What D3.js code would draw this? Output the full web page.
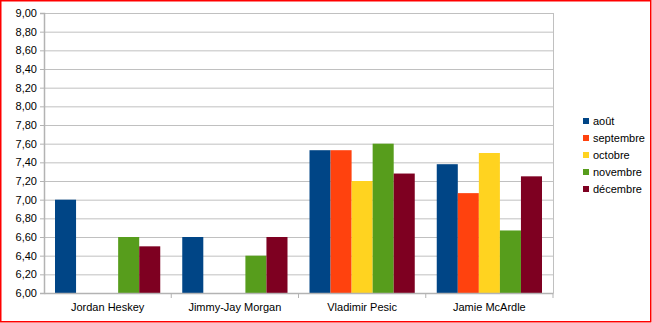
<!DOCTYPE html>
<html>
<head>
<meta charset="utf-8">
<script src="https://d3js.org/d3.v7.min.js"></script>
<style>
  body { margin: 0; background: #fff; font-family: "Liberation Sans", Arial, sans-serif; }
  svg { display: block; }
  .grid line { stroke: #c0c0c0; }
  .grid path { display: none; }
</style>
</head>
<body>
<script>
const players = ["Jordan Heskey", "Jimmy-Jay Morgan", "Vladimir Pesic", "Jamie McArdle"]
const months = ["août", "septembre", "octobre", "novembre", "décembre"]
const aout      = [7.00, 6.60, 7.53, 7.38]
const septembre = [null, null, 7.53, 7.07]
const octobre   = [null, null, 7.20, 7.50]
const novembre  = [6.60, 6.40, 7.60, 6.67]
const decembre  = [6.50, 6.60, 7.28, 7.25]
const yTicks = d3.range(6, 9.001, 0.2)

const series = [aout, septembre, octobre, novembre, decembre]
const colors = ["#004586", "#ff420e", "#ffd320", "#579d1c", "#7e0021"]

const W = 652, H = 323
const m = { left: 44, top: 13, right: 99, bottom: 30 }
const width = W - m.left - m.right
const height = H - m.top - m.bottom

const svg = d3.select("body").append("svg")
  .attr("width", W).attr("height", H)

// red frame
svg.append("rect")
  .attr("x", 0.75).attr("y", 0.75)
  .attr("width", W - 2).attr("height", H - 2)
  .attr("fill", "#fff").attr("stroke", "#ff0000").attr("stroke-width", 1.5)

const g = svg.append("g").attr("transform", `translate(${m.left},${m.top})`)

const x0 = d3.scaleBand().domain(players).range([0, width]).paddingInner(0).paddingOuter(0)
const x1 = d3.scaleBand().domain(months).range([11, x0.bandwidth() - 11])
const y = d3.scaleLinear().domain([6, 9]).range([height, 0])

// horizontal grid
g.append("g").attr("class", "grid")
  .call(d3.axisLeft(y).tickValues(yTicks).tickSize(-width).tickFormat(""))

// right border of plot
g.append("line")
  .attr("x1", width + 0.5).attr("x2", width + 0.5)
  .attr("y1", 0).attr("y2", height)
  .attr("stroke", "#c0c0c0")

// bars
const data = []
players.forEach((p, i) => {
  months.forEach((mo, j) => {
    if (series[j][i] != null) data.push({ p: p, m: mo, v: series[j][i], c: colors[j] })
  })
})

g.append("g").selectAll("rect")
  .data(data)
  .enter()
  .append("rect")
  .attr("x", d => x0(d.p) + x1(d.m))
  .attr("width", x1.bandwidth())
  .attr("y", d => y(d.v))
  .attr("height", d => height - y(d.v))
  .attr("fill", d => d.c)

// y axis
const yAxis = g.append("g")
  .call(d3.axisLeft(y).tickValues(yTicks).tickSize(4).tickPadding(3)
    .tickFormat(d => d3.format(".2f")(d).replace(".", ",")))
yAxis.select(".domain").attr("stroke", "#b3b3b3").attr("stroke-width", 1.5)
yAxis.selectAll(".tick line").attr("stroke", "#b3b3b3")
yAxis.selectAll("text").attr("fill", "#000").attr("font-size", "11px")
  .attr("font-family", "Liberation Sans, Arial, sans-serif")

// x axis
const xAxis = g.append("g")
  .attr("transform", `translate(0,${height})`)
  .call(d3.axisBottom(x0).tickSize(0).tickPadding(10))
xAxis.select(".domain").attr("stroke", "#b3b3b3").attr("stroke-width", 1.5)
xAxis.selectAll("text").attr("fill", "#000").attr("font-size", "11px")
  .attr("font-family", "Liberation Sans, Arial, sans-serif")

// category separators below the axis
g.append("g").selectAll("line")
  .data(players.slice(1).concat(["end"]))
  .enter()
  .append("line")
  .attr("x1", d => d === "end" ? width : x0(d))
  .attr("x2", d => d === "end" ? width : x0(d))
  .attr("y1", height).attr("y2", height + 5)
  .attr("stroke", "#b3b3b3")

// legend
const legend = svg.append("g").attr("transform", "translate(583,118)")
const item = legend.selectAll("g")
  .data(months)
  .enter()
  .append("g")
  .attr("transform", (d, i) => `translate(0,${i * 17})`)
item.append("rect")
  .attr("width", 6).attr("height", 6)
  .attr("fill", (d, i) => colors[i])
item.append("text")
  .attr("x", 10).attr("y", 3).attr("dy", "0.35em")
  .attr("font-size", "11px")
  .text(d => d)
</script>
</body>
</html>
